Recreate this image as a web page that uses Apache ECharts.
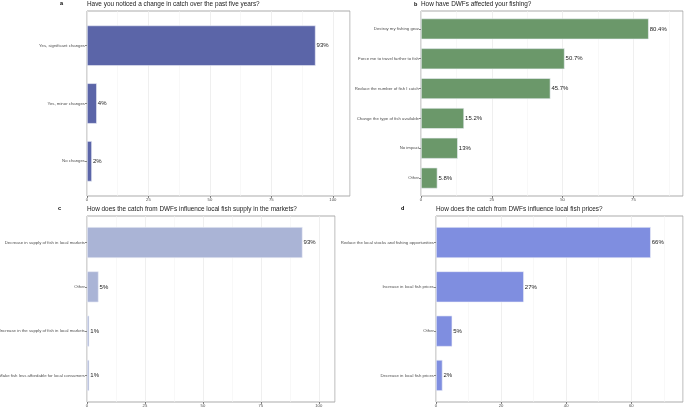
<!DOCTYPE html>
<html>
<head>
<meta charset="utf-8">
<script src="https://cdn.jsdelivr.net/npm/echarts@6/dist/echarts.min.js"></script>
<style>
  html, body { margin: 0; padding: 0; background: #fff; }
  #chart { width: 685px; height: 408px; }
</style>
</head>
<body>
<div id="chart"></div>
<script>
// 数据
const aTitle = 'Have you noticed a change in catch over the past five years?';
const aCats = ['Yes, significant changes', 'Yes, minor changes', 'No changes'];
const aVals = [93, 4, 2];

const bTitle = 'How have DWFs affected your fishing?';
const bCats = ['Destroy my fishing gear', 'Force me to travel farther to fish', 'Reduce the number of fish I catch',
  'Change the type of fish available', 'No impact', 'Other'];
const bVals = [80.4, 50.7, 45.7, 15.2, 13, 5.8];

const cTitle = 'How does the catch from DWFs influence local fish supply in the markets?';
const cCats = ['Decrease in supply of fish in local markets', 'Other', 'Increase in the supply of fish in local markets',
  'Make fish less affordable for local consumers'];
const cVals = [93, 5, 1, 1];

const dTitle = 'How does the catch from DWFs influence local fish prices?';
const dCats = ['Reduce the local stocks and fishing opportunities', 'Increase in local fish prices', 'Other',
  'Decrease in local fish prices'];
const dVals = [66, 27, 5, 2];

// 面板布局 (外框 = 面板边框, 内框按 ggplot 的离散轴扩展 0.6 缩进)
const PANELS = [
  { tag: 'a', title: aTitle, cats: aCats, vals: aVals, color: '#5b65a8', max: 107, interval: 25,
    grid: { left: 87, top: 11, width: 263, height: 185 }, tagPos: [60, 0] },
  { tag: 'b', title: bTitle, cats: bCats, vals: bVals, color: '#6b986a', max: 92.5, interval: 25,
    grid: { left: 421, top: 11, width: 262, height: 185 }, tagPos: [414, 1] },
  { tag: 'c', title: cTitle, cats: cCats, vals: cVals, color: '#aab4d6', max: 107, interval: 25,
    grid: { left: 87, top: 216, width: 248, height: 186 }, tagPos: [58, 205] },
  { tag: 'd', title: dTitle, cats: dCats, vals: dVals, color: '#7f8ee0', max: 75.9, interval: 20,
    grid: { left: 436, top: 216, width: 247, height: 186 }, tagPos: [401, 205] }
];

const chart = echarts.init(document.getElementById('chart'));

const option = {
  animation: false,
  backgroundColor: '#fff',
  textStyle: { fontFamily: 'Liberation Sans, Arial, sans-serif' },
  title: [],
  grid: [],
  xAxis: [],
  yAxis: [],
  series: []
};

PANELS.forEach((p) => {
  const g = p.grid;
  const n = p.cats.length;
  const unit = g.height / (n + 0.2);
  const outer = option.grid.length;
  const inner = outer + 1;

  // 外框: 边框 + 竖向网格线 + x 轴刻度
  option.grid.push(Object.assign({
    show: true, borderColor: '#ababab', borderWidth: 1, backgroundColor: '#fff',
    outerBoundsMode: 'none', containLabel: false
  }, g));
  // 内框: 放柱子和类别标签 (标签允许超出画布, 不压缩网格)
  option.grid.push({
    left: g.left, width: g.width, top: g.top + 0.1 * unit, height: n * unit,
    outerBoundsMode: 'none', containLabel: false
  });

  option.title.push({
    text: p.title, left: g.left, top: g.top - 10, padding: 0,
    textStyle: { fontSize: 6.4, fontWeight: 'normal', color: '#1a1a1a' }
  });
  option.title.push({
    text: p.tag, left: p.tagPos[0], top: p.tagPos[1], padding: 0,
    textStyle: { fontSize: 5.5, fontWeight: 'bold', color: '#000' }
  });

  option.xAxis.push({
    type: 'value', gridIndex: outer, min: 0, max: p.max, interval: p.interval,
    axisLine: { show: false },
    axisTick: { show: true, length: 2, lineStyle: { color: '#333', width: 0.6 } },
    axisLabel: { fontSize: 4.2, color: '#4d4d4d', margin: 2, showMaxLabel: false },
    splitLine: { show: true, lineStyle: { color: '#ebebeb', width: 0.8 } },
    minorTick: { show: false, splitNumber: 2 },
    minorSplitLine: { show: true, lineStyle: { color: '#f3f3f3', width: 0.6 } }
  });
  option.yAxis.push({
    type: 'value', gridIndex: outer, min: 0, max: 1, show: false
  });

  option.xAxis.push({
    type: 'value', gridIndex: inner, min: 0, max: p.max, show: false
  });
  option.yAxis.push({
    type: 'category', gridIndex: inner, data: p.cats, inverse: true,
    axisLine: { show: false },
    axisTick: { show: true, length: 2, alignWithLabel: true, lineStyle: { color: '#333', width: 0.6 } },
    axisLabel: { fontSize: 4.3, color: '#4d4d4d', margin: 2, interval: 0 },
    splitLine: { show: false }
  });

  option.series.push({
    type: 'bar', xAxisIndex: option.xAxis.length - 1, yAxisIndex: option.yAxis.length - 1, data: p.vals,
    barCategoryGap: '30%',
    itemStyle: { color: p.color, borderColor: '#eef0f8', borderWidth: 0.6 },
    label: {
      show: true, position: 'right', distance: 1, fontSize: 6, color: '#1a1a1a',
      formatter: (d) => d.value + '%'
    }
  });
});

chart.setOption(option);
</script>
</body>
</html>
